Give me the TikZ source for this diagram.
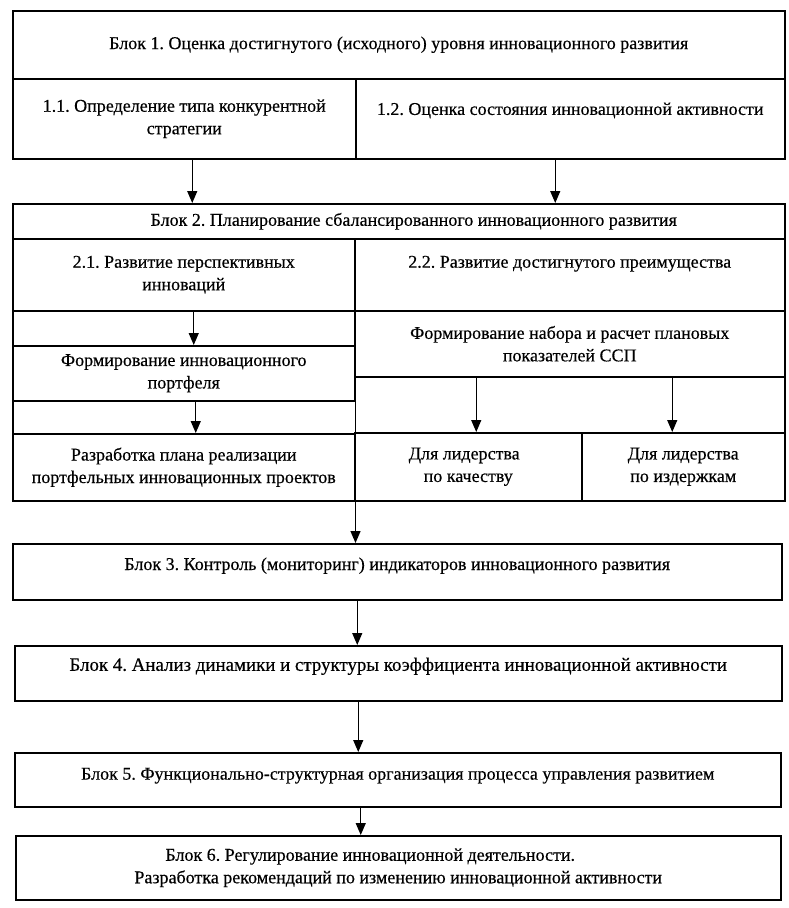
\documentclass[tikz,border=0pt]{standalone}
\usepackage{fontspec}
\setmainfont{Liberation Serif}[FakeBold=0.4]
\usetikzlibrary{arrows.meta}
\frenchspacing
\begin{document}
\begin{tikzpicture}[x=1pt,y=-1pt,
  box/.style={draw, line width=1.5pt, anchor=north west, inner sep=0pt, font=\fontsize{18}{22.5}\selectfont, align=center},
  arr/.style={line width=1.3pt, -{Triangle[length=12pt,width=10pt]}},
  up/.style={text depth=#1}]
\useasboundingbox (0,0) rectangle (789,908);
% Block 1
\node[box, minimum width=772pt, minimum height=68pt] (b1) at (12,10) {Блок 1. Оценка достигнутого (исходного) уровня инновационного развития};
\node[box, minimum width=343pt, minimum height=80pt] (b11) at (12,78) {1.1. Определение типа конкурентной\\стратегии};
\node[box, minimum width=429pt, minimum height=80pt, up=20pt] (b12) at (355,78) {1.2. Оценка состояния инновационной активности};
% Block 2
\node[box, minimum width=772pt, minimum height=297pt] (b2) at (12,203) {};
\node[box, minimum width=772pt, minimum height=35pt] (b2h) at (12,203) {\hspace*{30pt}Блок 2. Планирование сбалансированного инновационного развития};
\node[box, minimum width=342pt, minimum height=72pt] (b21) at (12,238) {2.1. Развитие перспективных\\инноваций};
\node[box, minimum width=342pt, minimum height=55pt] (b21a) at (12,345) {Формирование инновационного\\портфеля};
\node[box, minimum width=342pt, minimum height=67pt] (b21b) at (12,433) {Разработка плана реализации\\портфельных инновационных проектов};
\node[box, minimum width=430pt, minimum height=72pt, up=26pt] (b22) at (354,238) {2.2. Развитие достигнутого преимущества};
\node[box, minimum width=430pt, minimum height=66pt] (b22a) at (354,310) {Формирование набора и расчет плановых\\показателей ССП};
\node[box, minimum width=227pt, minimum height=68pt] (b22q) at (354,432) {Для лидерства\hspace*{8pt}\\по качеству};
\node[box, minimum width=203pt, minimum height=68pt] (b22c) at (581,432) {Для лидерства\\по издержкам};
\draw[line width=1.5pt] (b21.north east) -- (b21b.south east);
% Blocks 3-6
\node[box, minimum width=769pt, minimum height=56pt, up=16pt] (b3) at (12,543) {Блок 3. Контроль (мониторинг) индикаторов инновационного развития};
\node[box, minimum width=767pt, minimum height=55pt, up=18pt, font=\fontsize{18.9}{22.5}\selectfont] (b4) at (14,645) {Блок 4. Анализ динамики и структуры коэффициента инновационной активности};
\node[box, minimum width=766pt, minimum height=54pt, up=12pt] (b5) at (14,752) {Блок 5. Функционально-структурная организация процесса управления развитием};
\node[box, minimum width=765pt, minimum height=64pt] (b6) at (15,835) {Блок 6. Регулирование инновационной деятельности.\hspace*{56pt}\\Разработка рекомендаций по изменению инновационной активности};
% arrows
\draw[arr] ([xshift=8pt]b11.south) -- ([xshift=8pt]b11.south |- b2.north);
\draw[arr] ([xshift=-15pt]b12.south) -- ([xshift=-15pt]b12.south |- b2.north);
\draw[arr] ([xshift=10pt]b21.south) -- ([xshift=10pt]b21.south |- b21a.north);
\draw[arr] ([xshift=12pt]b21a.south) -- ([xshift=12pt]b21a.south |- b21b.north);
\draw[arr] ([xshift=8pt]b22q.north |- b22a.south) -- ([xshift=8pt]b22q.north);
\draw[arr] ([xshift=-11pt]b22c.north |- b22a.south) -- ([xshift=-11pt]b22c.north);
\draw[arr] (b21b.south east) -- (b21b.south east |- b3.north);
\draw[arr] ([xshift=-40pt]b3.south) -- ([xshift=-40pt]b3.south |- b4.north);
\draw[arr] ([xshift=-40pt]b4.south) -- ([xshift=-40pt]b4.south |- b5.north);
\draw[arr] ([xshift=-37pt]b5.south) -- ([xshift=-37pt]b5.south |- b6.north);
\end{tikzpicture}
\end{document}
